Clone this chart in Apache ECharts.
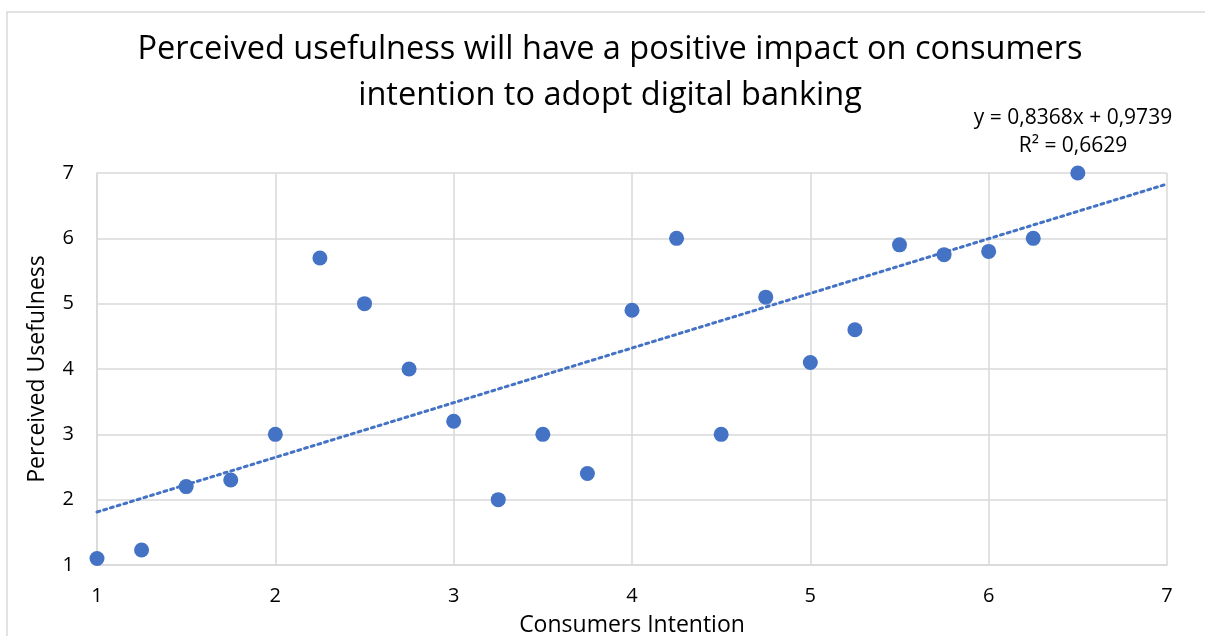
<!DOCTYPE html>
<html>
<head>
<meta charset="utf-8">
<script src="https://cdn.jsdelivr.net/npm/echarts@6/dist/echarts.min.js"></script>
<style>
  html, body { margin: 0; padding: 0; background: #fff; overflow: hidden; }
  #chart { width: 1205px; height: 636px; }
</style>
</head>
<body>
<div id="chart"></div>
<script>
// Survey responses: consumers' intention (x) vs perceived usefulness (y)
const intention = [1, 1.25, 1.5, 1.75, 2, 2.25, 2.5, 2.75, 3, 3.25, 3.5, 3.75, 4, 4.25, 4.5, 4.75, 5, 5.25, 5.5, 5.75, 6, 6.25, 6.5];
const usefulness = [1.1, 1.23, 2.2, 2.3, 3, 5.7, 5, 4, 3.2, 2, 3, 2.4, 4.9, 6, 3, 5.1, 4.1, 4.6, 5.9, 5.75, 5.8, 6, 7];

// Linear trendline coefficients
const slope = 0.8368;
const intercept = 0.9739;
const rSquared = 0.6629;
const trendRange = [1, 7];

const axisTicks = [1, 2, 3, 4, 5, 6, 7];

const FONT = '"Open Sans", Lato, sans-serif';
const BLUE = '#4472C4';
const GRID = '#d9d9d9';

const points = intention.map((x, i) => [x, usefulness[i]]);
const trend = trendRange.map(x => [x, slope * x + intercept]);
const fmt = v => v.toFixed(4).replace('.', ',');

const chart = echarts.init(document.getElementById('chart'), null, { renderer: 'canvas' });
chart.setOption({
  backgroundColor: '#fff',
  animation: false,
  textStyle: { fontFamily: FONT },
  graphic: [
    {
      type: 'rect',
      shape: { x: 7, y: 12, width: 1300, height: 700 },
      style: { fill: 'none', stroke: GRID, lineWidth: 1.5 },
      silent: true
    },
    {
      type: 'text',
      x: 610,
      y: 27,
      style: {
        text: 'Perceived usefulness will have a positive impact on consumers\nintention to adopt digital banking',
        font: '32.5px ' + FONT,
        fill: '#000',
        textAlign: 'center',
        lineHeight: 46
      }
    },
    {
      type: 'text',
      x: 1073,
      y: 104,
      style: {
        text: 'y = ' + fmt(slope) + 'x + ' + fmt(intercept) + '\nR² = ' + fmt(rSquared),
        font: '21px ' + FONT,
        fill: '#000',
        textAlign: 'center',
        lineHeight: 28
      }
    }
  ],
  grid: { left: 97, right: 38, top: 173, bottom: 71, containLabel: false, outerBoundsMode: 'none' },
  xAxis: {
    type: 'value',
    min: axisTicks[0],
    max: axisTicks[axisTicks.length - 1],
    interval: 1,
    name: 'Consumers Intention',
    nameLocation: 'middle',
    nameGap: 49,
    nameTextStyle: { fontSize: 23, color: '#000', fontFamily: FONT },
    axisLine: { show: true, lineStyle: { color: GRID, width: 1.5 } },
    axisTick: { show: false },
    axisLabel: { fontSize: 20, color: '#000', margin: 21, fontFamily: FONT },
    splitLine: { show: true, lineStyle: { color: GRID, width: 1.5 } }
  },
  yAxis: {
    type: 'value',
    min: axisTicks[0],
    max: axisTicks[axisTicks.length - 1],
    interval: 1,
    name: 'Perceived Usefulness',
    nameLocation: 'middle',
    nameGap: 48,
    nameTextStyle: { fontSize: 23, color: '#000', fontFamily: FONT },
    axisLine: { show: true, lineStyle: { color: GRID, width: 1.5 } },
    axisTick: { show: false },
    axisLabel: { fontSize: 20, color: '#000', margin: 23, fontFamily: FONT },
    splitLine: { show: true, lineStyle: { color: GRID, width: 1.5 } }
  },
  series: [
    {
      type: 'line',
      data: trend,
      showSymbol: false,
      symbol: 'none',
      lineStyle: { color: BLUE, width: 3, type: [3, 4], cap: 'round' },
      z: 2
    },
    {
      type: 'scatter',
      data: points,
      symbolSize: 15,
      itemStyle: { color: BLUE, opacity: 1 },
      z: 3
    }
  ]
});
</script>
</body>
</html>
